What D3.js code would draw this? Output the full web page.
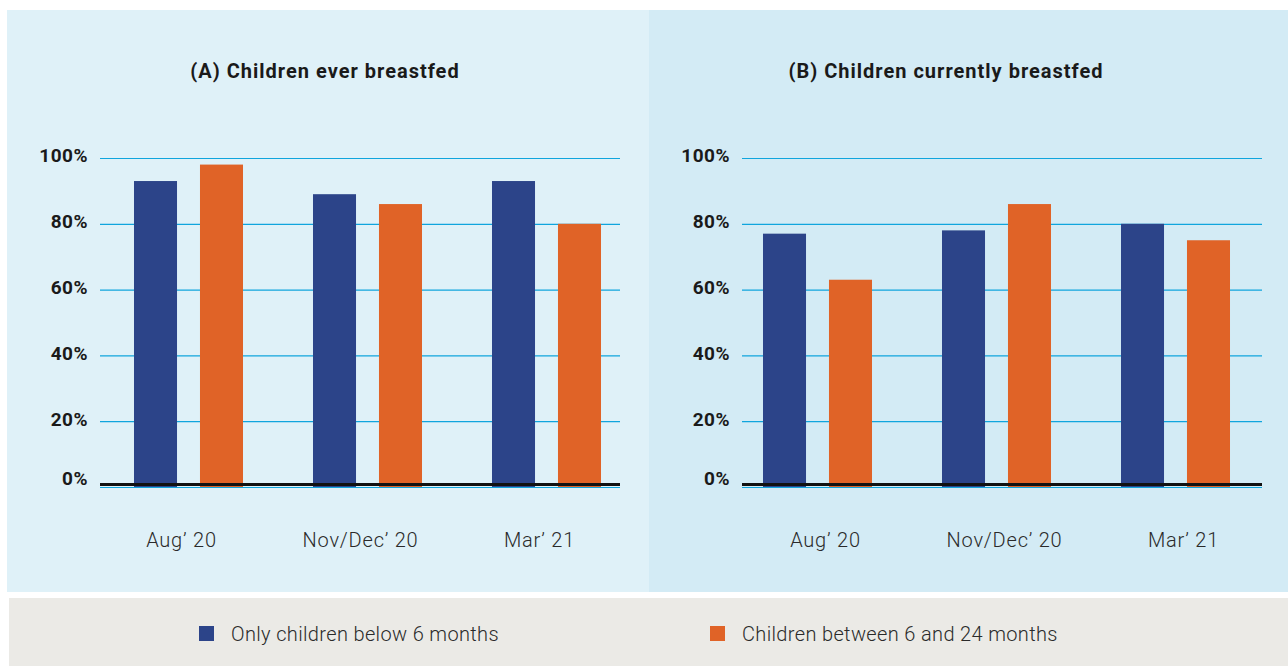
<!DOCTYPE html>
<html>
<head>
<meta charset="utf-8">
<script src="https://cdn.jsdelivr.net/npm/d3@7"></script>
<style>
  body { margin: 0; background: #ffffff; }
  svg { display: block; }
</style>
</head>
<body>
<div id="chart"></div>
<script>
// data
let periods = ["Aug\u2019 20", "Nov/Dec\u2019 20", "Mar\u2019 21"];
let seriesNames = ["Only children below 6 months", "Children between 6 and 24 months"];
let everBelow6 = [93, 89, 93];
let ever6to24 = [98, 86, 80];
let currentBelow6 = [77, 78, 80];
let current6to24 = [63, 86, 75];
let yTicks = [0, 20, 40, 60, 80, 100];

let colors = ["#2c4489", "#e06327"];
let font = "Roboto, 'Liberation Sans', sans-serif";

let width = 1288, height = 666;

let svg = d3.select("#chart")
    .append("svg")
    .attr("width", width)
    .attr("height", height);

// panel settings
let panels = [
    { title: "(A) Children ever breastfed", left: 7, right: 649, bg: "#dff1f8",
      gridX: [100, 620], bandStart: 99, titleX: 325, labelShift: -7,
      values: [everBelow6, ever6to24] },
    { title: "(B) Children currently breastfed", left: 649, right: 1288, bg: "#d3ebf5",
      gridX: [742, 1262], bandStart: 728, titleX: 946, labelShift: 8,
      values: [currentBelow6, current6to24] }
];

let y = d3.scaleLinear()
    .domain([0, 100])
    .range([487, 158]);

panels.forEach(function (p) {
    let g = svg.append("g");

    g.append("rect")
        .attr("x", p.left)
        .attr("y", 10)
        .attr("width", p.right - p.left)
        .attr("height", 582)
        .attr("fill", p.bg);

    g.append("text")
        .attr("x", p.titleX)
        .attr("y", 78)
        .attr("text-anchor", "middle")
        .attr("font-family", font)
        .attr("font-weight", "bold")
        .attr("font-size", 20)
        .attr("letter-spacing", 1)
        .attr("fill", "#1a1a1a")
        .text(p.title);

    // gridlines + y labels
    let yAxis = d3.axisLeft(y)
        .tickValues(yTicks)
        .tickSize(-(p.gridX[1] - p.gridX[0]))
        .tickPadding(12)
        .tickFormat(function (d) { return d + "%"; });

    let yg = g.append("g")
        .attr("transform", "translate(" + p.gridX[0] + ",0)")
        .call(yAxis);
    yg.select(".domain").remove();
    yg.selectAll(".tick line")
        .attr("stroke", "#10a5dd")
        .attr("stroke-width", 1.2);
    yg.selectAll(".tick text")
        .attr("dy", function (d) { return d === 0 ? "-0.15em" : "0.2em"; })
        .attr("font-family", font)
        .attr("font-weight", "bold")
        .attr("font-size", 19)
        .attr("letter-spacing", 0.5)
        .attr("fill", "#1a1a1a");

    // bars
    let x0 = d3.scaleBand()
        .domain(periods)
        .range([p.bandStart, p.bandStart + 537])
        .paddingInner(0.391)
        .paddingOuter(0.1955);

    let x1 = d3.scaleBand()
        .domain([0, 1])
        .range([0, x0.bandwidth()])
        .paddingInner(0.348);

    let rows = periods.map(function (per, i) {
        return { period: per, vals: [p.values[0][i], p.values[1][i]] };
    });

    let groups = g.selectAll("g.grp")
        .data(rows)
        .enter()
        .append("g")
        .attr("class", "grp")
        .attr("transform", function (d) { return "translate(" + x0(d.period) + ",0)"; });

    groups.selectAll("rect")
        .data(function (d) { return d.vals.map(function (v, k) { return { k: k, v: v }; }); })
        .enter()
        .append("rect")
        .attr("x", function (d) { return x1(d.k); })
        .attr("y", function (d) { return y(d.v); })
        .attr("width", x1.bandwidth())
        .attr("height", function (d) { return y(0) - y(d.v); })
        .attr("fill", function (d) { return colors[d.k]; });

    // baseline
    g.append("line")
        .attr("x1", p.gridX[0])
        .attr("x2", p.gridX[1])
        .attr("y1", y(0) - 2.5)
        .attr("y2", y(0) - 2.5)
        .attr("stroke", "#111111")
        .attr("stroke-width", 3);

    // x labels
    let xAxis = d3.axisBottom(x0)
        .tickSize(0)
        .tickPadding(46);
    let xg = g.append("g")
        .attr("transform", "translate(" + p.labelShift + "," + y(0) + ")")
        .call(xAxis);
    xg.select(".domain").remove();
    xg.selectAll(".tick text")
        .attr("font-family", font)
        .attr("font-weight", 300)
        .attr("font-size", 20)
        .attr("letter-spacing", 0.8)
        .attr("fill", "#2a2a2a");
});

// legend
svg.append("rect")
    .attr("x", 9)
    .attr("y", 598)
    .attr("width", width - 9)
    .attr("height", 68)
    .attr("fill", "#ebeae6");

let legendX = [199, 710];
let legend = svg.selectAll("g.leg")
    .data(seriesNames)
    .enter()
    .append("g")
    .attr("class", "leg")
    .attr("transform", function (d, i) { return "translate(" + legendX[i] + ",626)"; });

legend.append("rect")
    .attr("width", 15)
    .attr("height", 15)
    .attr("fill", function (d, i) { return colors[i]; });

legend.append("text")
    .attr("x", 32)
    .attr("y", 14.5)
    .attr("font-family", font)
    .attr("font-weight", 300)
    .attr("font-size", 20)
    .attr("letter-spacing", 0.35)
    .attr("fill", "#2a2a2a")
    .text(function (d) { return d; });
</script>
</body>
</html>
